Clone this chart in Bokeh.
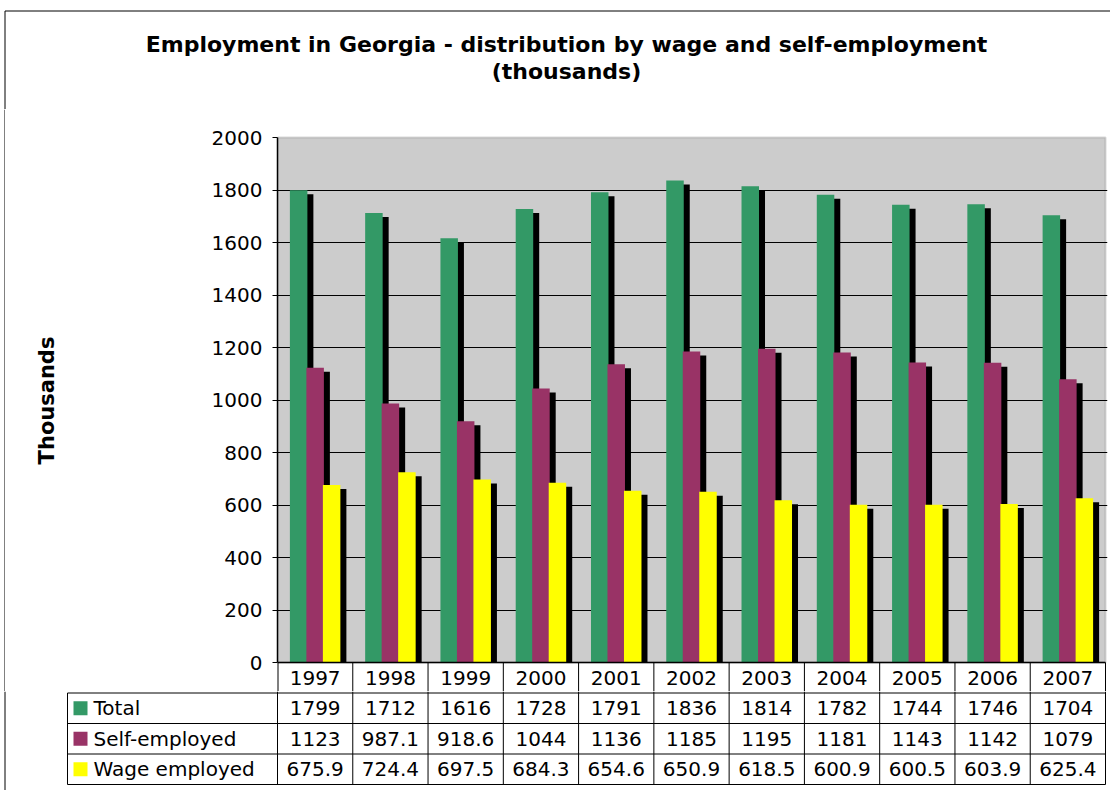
from bokeh.plotting import figure
from bokeh.layouts import row
from bokeh.models import Range1d, FixedTicker, BoxAnnotation
from bokeh.core.properties import value
from bokeh.embed import file_html
from bokeh.resources import INLINE

# ---------------- data ----------------
years = ["1997", "1998", "1999", "2000", "2001", "2002", "2003", "2004", "2005", "2006", "2007"]
total = [1799, 1712, 1616, 1728, 1791, 1836, 1814, 1782, 1744, 1746, 1704]
self_employed = [1123, 987.1, 918.6, 1044, 1136, 1185, 1195, 1181, 1143, 1142, 1079]
wage_employed = [675.9, 724.4, 697.5, 684.3, 654.6, 650.9, 618.5, 600.9, 600.5, 603.9, 625.4]
series_names = ["Total", "Self-employed", "Wage employed"]
series_colors = ["#339966", "#993366", "#FFFF00"]
y_ticks = [0, 200, 400, 600, 800, 1000, 1200, 1400, 1600, 1800, 2000]
title_lines = ["Employment in Georgia - distribution by wage and self-employment", "(thousands)"]
y_label = "Thousands"

# ---------------- layout constants (page pixels) ----------------
FONT = "DejaVu Sans"
n = len(years)
W = 1110
BX, BY = 4.5, 10.5                  # outer chart border line (left / top)
LW = 5                              # width of the left border strip
PA_LEFT, PA_RIGHT = 277, 1105       # plot area
PA_TOP, PA_ZERO = 137, 662
T_BOTTOM = 109                      # title strip bottom
A_BOTTOM = 691                      # chart strip bottom (includes the year row)
B_BOTTOM = 790                      # table strip bottom
TBL_LEFT = 67
RH = 30.5                           # table row height
nrows = len(series_names) + 1
PAD = 2

PX = (PA_RIGHT - PA_LEFT) / n       # pixels per category
YMAX = y_ticks[-1]
UPP = YMAX / (PA_ZERO - PA_TOP)     # data units per pixel (y)

row_y = [PA_ZERO + r * RH for r in range(nrows + 1)]         # table row boundaries (page y)
row_c = [PA_ZERO + (r + 0.5) * RH for r in range(nrows)]     # table row centers (page y)


def dx(px):   # page x -> category x
    return -0.5 + (px - PA_LEFT) / PX


def dy(py):   # page y -> value y
    return (PA_ZERO - py) * UPP


def fmt(v):
    return str(int(v)) if float(v).is_integer() else f"{v:.1f}"


def bare(fig):
    fig.outline_line_color = None
    fig.grid.visible = False
    fig.background_fill_color = "white"
    fig.border_fill_color = "white"
    return fig


def strip(width, height, xr, yr):
    return bare(figure(width=width, height=height, x_range=xr, y_range=yr,
                       output_backend="svg", toolbar_location=None,
                       x_axis_location=None, y_axis_location=None,
                       min_border_left=0, min_border_right=0,
                       min_border_top=0, min_border_bottom=0))


# ================= title strip =================
T = strip(W, T_BOTTOM, Range1d(0, W), Range1d(T_BOTTOM, 0))
T.text(x=[566, 566], y=[44, 71], text=title_lines, text_font=value(FONT),
       text_font_style="bold", text_font_size=value("22px"),
       text_align="center", text_baseline="middle", text_color="black")
T.segment(x0=[BX, BX], y0=[BY, BY], x1=[W, BX], y1=[BY, T_BOTTOM],
          line_color="black", line_width=1)

# ================= chart strip =================
A_H = A_BOTTOM - T_BOTTOM
L = strip(LW, A_H, Range1d(0, LW), Range1d(A_BOTTOM, T_BOTTOM))
L.segment(x0=[BX], y0=[T_BOTTOM], x1=[BX], y1=[A_BOTTOM], line_color="black", line_width=1)

A = figure(width=W - LW, height=A_H,
           x_range=Range1d(-0.5, dx(PA_RIGHT + PAD)), y_range=Range1d(dy(A_BOTTOM), dy(T_BOTTOM)),
           output_backend="svg", toolbar_location=None, x_axis_location=None,
           min_border_left=PA_LEFT - LW, min_border_right=W - PA_RIGHT - PAD,
           min_border_top=0, min_border_bottom=0)
A.background_fill_color = "white"
A.border_fill_color = "white"
A.outline_line_color = None
A.xgrid.visible = False
A.ygrid.ticker = FixedTicker(ticks=y_ticks[1:-1])
A.ygrid.grid_line_color = "black"
A.ygrid.grid_line_width = 1

A.add_layout(BoxAnnotation(left=-0.5, right=n - 0.5, bottom=0, top=YMAX,
                           fill_color="#CCCCCC", fill_alpha=1,
                           line_color="#808080", line_width=2, level="image"))

ax = A.yaxis[0]
ax.ticker = FixedTicker(ticks=y_ticks)
ax.bounds = (y_ticks[0], y_ticks[-1])
ax.axis_line_color = "black"
ax.axis_line_width = 1.5
ax.major_tick_line_color = "black"
ax.major_tick_out = 5
ax.major_tick_in = 0
ax.minor_tick_line_color = None
ax.major_label_text_font = FONT
ax.major_label_text_font_size = "20px"
ax.major_label_text_color = "black"
ax.major_label_standoff = 10
ax.axis_label = y_label
ax.axis_label_text_font = FONT
ax.axis_label_text_font_style = "bold"
ax.axis_label_text_font_size = "21px"
ax.axis_label_text_color = "black"
ax.axis_label_standoff = 150

# bars with offset shadows
bw = 17.5 / PX
step = 16.5 / PX
sh_dx = 6 / PX
sh_dy = 4 * UPP
for k, (vals, col) in enumerate(zip([total, self_employed, wage_employed], series_colors)):
    xc = [i + (k - 1) * step for i in range(n)]
    A.vbar(x=[x + sh_dx for x in xc], top=[v - sh_dy for v in vals], bottom=0,
           width=bw, fill_color="black", line_color=None)
    A.vbar(x=xc, top=vals, bottom=0, width=bw, fill_color=col, line_color=None)

# zero line = top of the table, and the year row of the table
A.segment(x0=[-0.5], y0=[0], x1=[n - 0.5], y1=[0], line_color="black", line_width=1.5)
vx = [k - 0.5 for k in range(n + 1)]
A.segment(x0=vx, y0=[0] * len(vx), x1=vx, y1=[dy(A_BOTTOM)] * len(vx),
          line_color="black", line_width=[2] + [1] * n)
A.text(x=list(range(n)), y=[dy(row_c[0])] * n, text=years, text_font=value(FONT),
       text_font_size=value("20px"), text_align="center", text_baseline="middle",
       text_color="black")

# ================= table strip =================
B = strip(W, B_BOTTOM - A_BOTTOM, Range1d(dx(0), dx(W)), Range1d(B_BOTTOM, A_BOTTOM))
cell_left = dx(TBL_LEFT)

B.segment(x0=[cell_left] * nrows, y0=row_y[1:], x1=[n - 0.5] * nrows, y1=row_y[1:],
          line_color="black", line_width=1)
B.segment(x0=vx, y0=[A_BOTTOM] * len(vx), x1=vx, y1=[row_y[-1]] * len(vx),
          line_color="black", line_width=1)
B.segment(x0=[cell_left], y0=[row_y[1]], x1=[cell_left], y1=[row_y[-1]],
          line_color="black", line_width=1)
B.segment(x0=[dx(BX)], y0=[A_BOTTOM], x1=[dx(BX)], y1=[B_BOTTOM],
          line_color="black", line_width=1)

tx, ty, tt = [], [], []
for r, vals in enumerate([total, self_employed, wage_employed]):
    for i, v in enumerate(vals):
        tx.append(i); ty.append(row_c[r + 1]); tt.append(fmt(v))
B.text(x=tx, y=ty, text=tt, text_font=value(FONT), text_font_size=value("20px"),
       text_align="center", text_baseline="middle", text_color="black")

ly = row_c[1:]
B.scatter(x=[dx(80)] * len(ly), y=ly, marker="square", size=14,
          fill_color=series_colors, line_color=None)
B.text(x=[dx(93)] * len(ly), y=ly, text=series_names, text_font=value(FONT),
       text_font_size=value("20px"), text_align="left", text_baseline="middle",
       text_color="black")

open("out.html", "w").write(file_html([T, row(L, A), B], INLINE))
